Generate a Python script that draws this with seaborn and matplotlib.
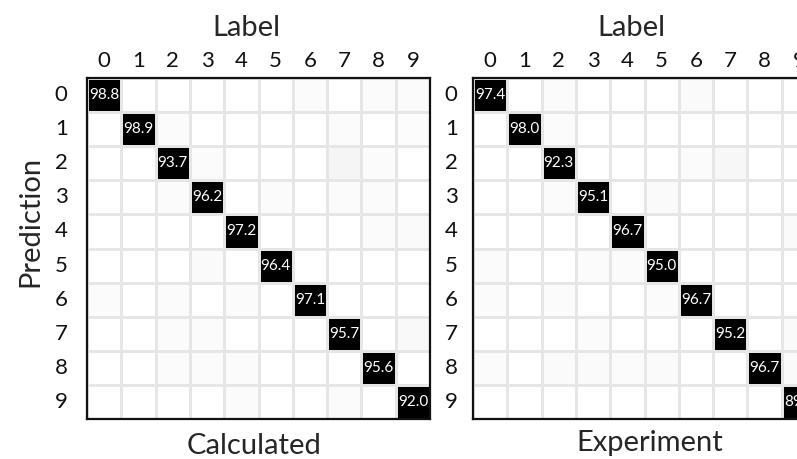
import numpy as np
import pandas as pd
import matplotlib
matplotlib.use("Agg")
import matplotlib.pyplot as plt
from matplotlib.colors import PowerNorm
import seaborn as sns

digits = ["0", "1", "2", "3", "4", "5", "6", "7", "8", "9"]

# Confusion matrices in percent (rows: prediction, columns: label)
calculated = [
    [98.8, 0.0, 0.0, 0.0, 0.0, 0.0, 0.4, 0.0, 0.3, 0.3],
    [0.0, 98.9, 0.3, 0.0, 0.0, 0.0, 0.0, 0.3, 0.0, 0.2],
    [0.0, 0.0, 93.7, 0.3, 0.0, 0.0, 0.0, 1.5, 0.4, 0.0],
    [0.0, 0.0, 0.4, 96.2, 0.0, 0.4, 0.0, 0.3, 0.4, 0.0],
    [0.0, 0.0, 0.0, 0.0, 97.2, 0.0, 0.0, 0.0, 0.3, 0.5],
    [0.0, 0.0, 0.0, 0.5, 0.0, 96.4, 0.0, 0.0, 0.0, 0.0],
    [0.4, 0.0, 0.3, 0.0, 0.3, 0.0, 97.1, 0.0, 0.0, 0.0],
    [0.0, 0.0, 0.4, 0.3, 0.0, 0.0, 0.0, 95.7, 0.0, 0.6],
    [0.0, 0.0, 0.4, 0.4, 0.4, 0.0, 0.0, 0.0, 95.6, 0.0],
    [0.0, 0.0, 0.0, 0.0, 0.3, 0.0, 0.0, 0.3, 0.0, 92.0],
]

experiment = [
    [97.4, 0.0, 0.3, 0.0, 0.0, 0.0, 0.5, 0.0, 0.0, 0.0],
    [0.0, 98.0, 0.3, 0.0, 0.0, 0.0, 0.0, 0.0, 0.0, 0.0],
    [0.0, 0.0, 92.3, 0.0, 0.0, 0.0, 0.3, 0.9, 0.0, 0.0],
    [0.0, 0.0, 0.4, 95.1, 0.0, 0.5, 0.0, 0.0, 0.0, 0.0],
    [0.0, 0.0, 0.0, 0.0, 96.7, 0.0, 0.0, 0.0, 0.0, 0.5],
    [0.4, 0.0, 0.0, 0.3, 0.3, 95.0, 0.0, 0.0, 0.0, 0.0],
    [0.4, 0.0, 0.4, 0.0, 0.0, 0.4, 96.7, 0.0, 0.0, 0.0],
    [0.0, 0.0, 0.0, 0.4, 0.0, 0.0, 0.0, 95.2, 0.0, 0.5],
    [0.3, 0.0, 0.5, 0.5, 0.4, 0.5, 0.0, 0.0, 96.7, 0.5],
    [0.0, 0.0, 0.0, 0.0, 0.0, 0.0, 0.0, 0.0, 0.0, 89.3],
]

sns.set_style("white")
plt.rcParams["font.family"] = ["Lato", "DejaVu Sans"]

fig = plt.figure(figsize=(7.97, 4.59), dpi=100)
ax_left = fig.add_axes([0.1092, 0.0871, 0.4304, 0.7429])
ax_right = fig.add_axes([0.5935, 0.0871, 0.4304, 0.7429])


def draw_matrix(ax, values, ylabels_pad):
    df = pd.DataFrame(values, index=digits, columns=digits)
    arr = df.to_numpy()
    labels = np.where(np.eye(len(digits), dtype=bool),
                      np.vectorize(lambda v: f"{v:.1f}")(arr), "")
    sns.heatmap(df, ax=ax, cmap="Greys",
                norm=PowerNorm(gamma=0.6, vmin=0, vmax=90, clip=True),
                cbar=False, annot=labels, fmt="",
                annot_kws={"color": "white", "fontsize": 11},
                linewidths=0.8, linecolor="#e6e6e6")
    ax.xaxis.tick_top()
    ax.tick_params(axis="both", length=0, labelsize=16, colors="#111111")
    ax.tick_params(axis="x", pad=5)
    ax.tick_params(axis="y", pad=ylabels_pad)
    ax.set_yticklabels(digits, rotation=0)
    ax.set_xticklabels(digits, rotation=0)
    ax.set_xlabel("")
    ax.set_ylabel("")
    for sp in ax.spines.values():
        sp.set_visible(True)
        sp.set_linewidth(1.6)
        sp.set_color("#111111")


draw_matrix(ax_left, calculated, 14)
draw_matrix(ax_right, experiment, 11)

fig.text(246 / 797, (459 - 36) / 459, "Label", fontsize=21, ha="center", va="baseline")
fig.text(631 / 797, (459 - 36) / 459, "Label", fontsize=21, ha="center", va="baseline")
fig.text(254 / 797, 5 / 459, "Calculated", fontsize=21, ha="center", va="baseline")
fig.text(650 / 797, 8 / 459, "Experiment", fontsize=21, ha="center", va="baseline")
fig.text(30 / 797, (459 - 221) / 459, "Prediction", fontsize=21, rotation=90,
         ha="center", va="center")

fig.savefig("out.png", dpi=100)
